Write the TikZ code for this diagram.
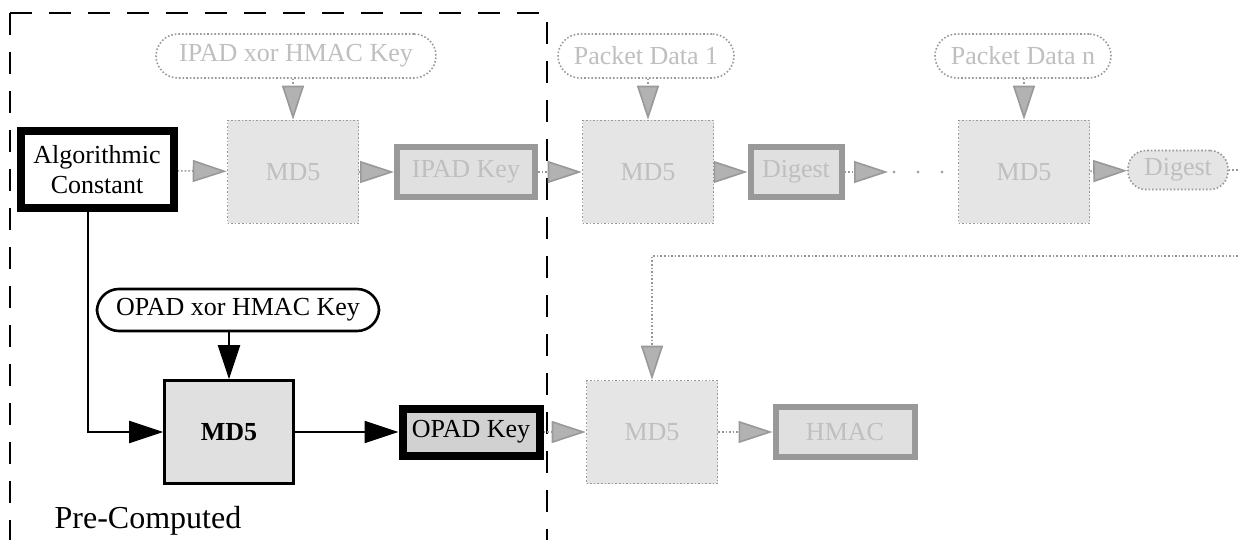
\documentclass[tikz,border=0pt]{standalone}
\usepackage{fontspec}
\setmainfont{Liberation Serif}
\usetikzlibrary{arrows.meta}
\pgfdeclarelayer{edgelayer}
\pgfdeclarelayer{nodelayer}
\pgfsetlayers{edgelayer,nodelayer,main}
\tikzstyle{const_box}=[rectangle,draw=black,line width=4pt,fill=white,minimum width=76.5pt,minimum height=38.5pt,align=center,inner sep=1pt]
\tikzstyle{hash_box}=[rectangle,draw=black,line width=1.3pt,fill=black!12,minimum width=64.5pt,minimum height=51.5pt,font=\fontsize{13}{15}\selectfont\bfseries]
\tikzstyle{input}=[rectangle,rounded corners=11pt,draw=black,line width=1.3pt,fill=white,minimum width=141pt,minimum height=21pt]
\tikzstyle{key_box}=[rectangle,draw=black,line width=4pt,fill=black!18,minimum width=68.5pt,minimum height=23.5pt,inner sep=1pt]
\tikzstyle{ghost_hash}=[rectangle,draw=black!40,densely dotted,line width=0.8pt,fill=black!10,text=black!25,minimum width=65.5pt,minimum height=51.5pt]
\tikzstyle{ghost_input}=[rectangle,rounded corners=11pt,draw=black!40,densely dotted,line width=0.8pt,fill=white,text=black!25,minimum height=22pt]
\tikzstyle{ghost_key}=[rectangle,draw=black!40,line width=3pt,fill=black!12,text=black!25,minimum height=25pt,inner sep=1pt]
\tikzstyle{ghost_output}=[rectangle,rounded corners=9pt,draw=black!40,densely dotted,line width=0.8pt,fill=black!10,text=black!25,minimum width=50pt,minimum height=19.5pt]
\tikzstyle{flow}=[-{Triangle[length=17pt,width=11pt]},draw=black,line width=1pt]
\tikzstyle{ghost_flow}=[-{Triangle[length=17pt,width=11pt,fill=black!30]},draw=black!40,densely dotted,line width=0.8pt]
\tikzstyle{ghost_line}=[draw=black!40,densely dotted,line width=0.8pt]
\tikzstyle{frame}=[draw=black,line width=1pt,dash pattern=on 11pt off 8.5pt]

\begin{document}
\begin{tikzpicture}[x=0.5pt,y=-0.5pt,font=\fontsize{13}{15}\selectfont]
	\useasboundingbox (0,0) rectangle (1238,540);
	\begin{pgfonlayer}{nodelayer}
		\node [style=const_box] (0) at (97, 170) {Algorithmic\\Constant};
		\node [style=ghost_input, minimum width=140pt] (1) at (296, 56) {IPAD xor HMAC Key};
		\node [style=ghost_hash] (2) at (293, 172) {MD5};
		\node [style=ghost_key, minimum width=69pt] (3) at (466, 172) {IPAD Key};
		\node [style=ghost_input, minimum width=88pt] (4) at (646, 56) {Packet Data 1};
		\node [style=ghost_hash] (5) at (648, 172) {MD5};
		\node [style=ghost_key, minimum width=45.5pt] (6) at (796, 172) {Digest};
		\coordinate (7) at (888, 172);
		\node [style=ghost_input, minimum width=88pt] (8) at (1023, 56) {Packet Data n};
		\node [style=ghost_hash] (9) at (1024, 172) {MD5};
		\node [style=ghost_output] (10) at (1178, 170) {Digest};
		\coordinate (11) at (1238, 170);
		\node [style=input] (12) at (238, 310) {OPAD xor HMAC Key};
		\node [style=hash_box] (13) at (229, 432) {MD5};
		\node [style=key_box] (14) at (471, 432) {OPAD Key};
		\node [style=ghost_hash] (15) at (652, 432) {MD5};
		\node [style=ghost_key, minimum width=69.5pt] (16) at (845, 432) {HMAC};
		\coordinate (17) at (1238, 256);
		\node [font=\fontsize{16}{19}\selectfont] (18) at (148, 521) {Pre-Computed};
	\end{pgfonlayer}
	\begin{pgfonlayer}{edgelayer}
		\draw [style=frame] (10, 13) -- (10, 540);
		\draw [style=frame] (10, 13) -- (547, 13) -- (547, 540);
		\draw [style=ghost_flow] (0) to (2);
		\draw [style=ghost_flow] (1.south -| 2.north) to (2.north);
		\draw [style=ghost_flow] (2) to (3);
		\draw [style=ghost_flow] (3) to (5);
		\draw [style=ghost_flow] (4.south -| 5.north) to (5.north);
		\draw [style=ghost_flow] (5) to (6);
		\draw [style=ghost_flow] (6) to (7);
		\fill [black!35] (894, 172) circle (1.6) (918, 172) circle (1.6) (942, 172) circle (1.6);
		\draw [style=ghost_flow] (8.south -| 9.north) to (9.north);
		\draw [style=ghost_flow] (9) to (10);
		\draw [style=ghost_line] (10) to (11);
		\draw [style=ghost_flow] (17) -| (15);
		\draw [style=ghost_flow] (14) to (15);
		\draw [style=ghost_flow] (15) to (16);
		\draw [style=flow] ([xshift=-4.75pt]0.south) |- (13);
		\draw [style=flow] (12.south -| 13.north) to (13.north);
		\draw [style=flow] (13) to (14);
	\end{pgfonlayer}
\end{tikzpicture}
\end{document}
